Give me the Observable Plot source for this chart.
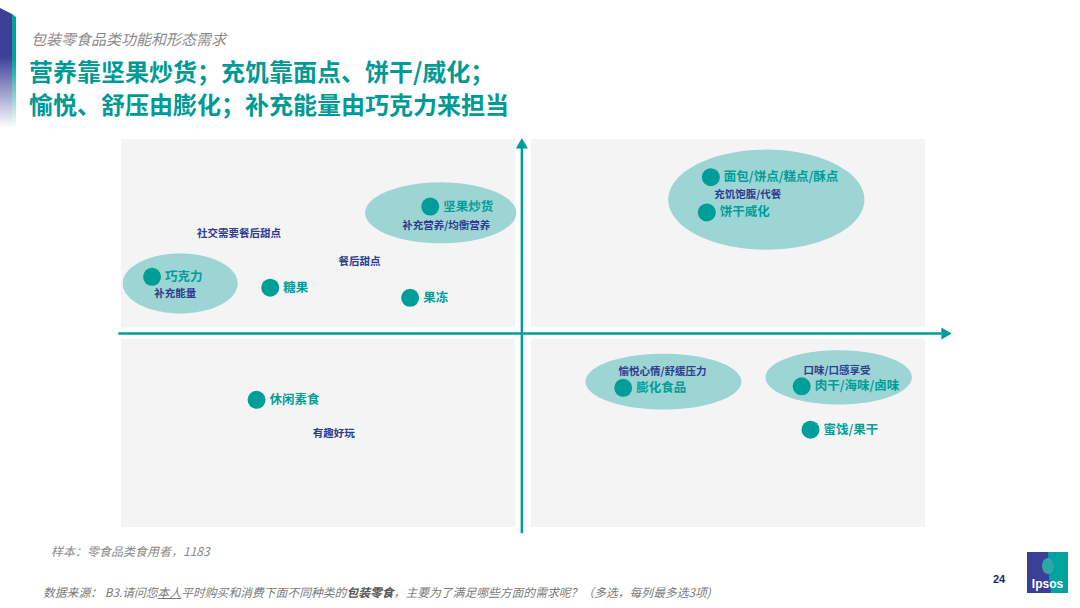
<!DOCTYPE html>
<html><head><meta charset="utf-8">
<script src="https://cdn.jsdelivr.net/npm/d3@7"></script>
<script src="https://cdn.jsdelivr.net/npm/@observablehq/plot@0.6"></script>
<style>
body{margin:0;background:#fff;}
#page{position:relative;width:1080px;height:608px;overflow:hidden;font-family:"Noto Sans CJK SC","Noto Sans",sans-serif;background:#fff;}
#chart{position:absolute;left:0;top:0;}
.abs{position:absolute;white-space:nowrap;}
#kicker{left:31px;top:29px;font-size:15px;font-style:italic;color:#8a8a8a;line-height:20px;}
#title{left:29px;top:54px;font-size:24px;font-weight:700;color:#009a96;line-height:33px;}
#sample{left:51px;top:543px;font-size:12px;font-style:italic;color:#8a8a8a;line-height:16px;}
#source{left:43px;top:584px;font-size:11.8px;font-style:italic;color:#7a7a7a;line-height:16px;}
#source u{text-decoration:underline;}
#source b{font-weight:700;color:#555;}
#pagenum{left:993px;top:571px;font-size:11px;font-weight:700;color:#1c2a6b;line-height:16px;font-family:"Liberation Sans",sans-serif;}
</style>
</head>
<body>
<div id="page">
  <svg class="abs" style="left:0;top:0" width="20" height="130">
    <defs>
      <linearGradient id="fadeB" x1="0" y1="0" x2="0" y2="1">
        <stop offset="0" stop-color="#3a3f98" stop-opacity="1"/>
        <stop offset="0.4" stop-color="#3a3f98" stop-opacity="1"/>
        <stop offset="1" stop-color="#3a3f98" stop-opacity="0"/>
      </linearGradient>
      <linearGradient id="fadeT" x1="0" y1="0" x2="0" y2="1">
        <stop offset="0" stop-color="#00a09b" stop-opacity="1"/>
        <stop offset="0.4" stop-color="#00a09b" stop-opacity="1"/>
        <stop offset="1" stop-color="#00a09b" stop-opacity="0"/>
      </linearGradient>
    </defs>
    <polygon points="0,8 12,14 12,128 0,128" fill="url(#fadeB)"/>
    <polygon points="12,14 16,17 16,128 12,128" fill="url(#fadeT)"/>
  </svg>
  <div id="kicker" class="abs">包装零食品类功能和形态需求</div>
  <div id="title" class="abs">营养靠坚果炒货；充饥靠面点、饼干/威化；<br>愉悦、舒压由膨化；补充能量由巧克力来担当</div>
  <div id="chart"></div>
  <div id="sample" class="abs">样本：零食品类食用者，1183</div>
  <div id="source" class="abs">数据来源： B3.请问您<u>本人</u>平时购买和消费下面不同种类的<b>包装零食</b>，主要为了满足哪些方面的需求呢？（多选，每列最多选3项)</div>
  <div id="pagenum" class="abs">24</div>
  <svg class="abs" style="left:1027px;top:552px" width="41" height="41">
    <rect x="0" y="0" width="41" height="41" fill="#3b3f98"/>
    <path d="M21,0 L41,0 L41,41 L24,41 L22,26 Z" fill="#00a39e"/>
    <ellipse cx="21" cy="14" rx="6" ry="8" fill="#2aa8a8"/>
    <text x="20.5" y="36" text-anchor="middle" font-family="Liberation Sans, sans-serif" font-weight="700" font-size="12" fill="#fff">Ipsos</text>
  </svg>
</div>
<script>
// Product categories (teal dots) — position on function map
const products = ["巧克力","糖果","果冻","坚果炒货","面包/饼点/糕点/酥点","饼干威化","膨化食品","肉干/海味/卤味","蜜饯/果干","休闲素食"];
const productX = [-4.62,-3.15,-1.41,-1.16,2.33,2.28,1.24,3.46,3.57,-3.32];
const productY = [1.46,1.18,0.92,3.27,4.03,3.12,-1.40,-1.36,-2.48,-1.71];

// Needs (dark blue labels)
const needs = ["补充能量","社交需要餐后甜点","餐后甜点","补充营养/均衡营养","充饥饱腹/代餐","愉悦心情/舒缓压力","口味/口感享受","有趣好玩"];
const needX = [-4.33,-3.54,-2.04,-0.96,2.79,1.73,3.90,-2.36];
const needY = [1.03,2.58,1.86,2.78,3.58,-0.97,-0.95,-2.59];

// Highlighted clusters (ellipses)
const clusters = ["巧克力","坚果炒货","面包饼干","膨化食品","肉干海味"];
const clusterX = [-4.27,-1.03,3.02,1.74,3.92];
const clusterY = [1.29,3.11,3.45,-1.24,-1.13];
const clusterRX = [0.715,0.94,1.22,0.97,0.91];
const clusterRY = [0.773,0.786,1.29,0.72,0.70];

// Quadrants
const quadrants = ["左上","右上","左下","右下"];
const quadX1 = [-5,0.1,-5,0.1];
const quadX2 = [-0.1,5,-0.1,5];
const quadY1 = [0.15,0.15,-5,-5];
const quadY2 = [5,5,-0.15,-0.15];

const TEAL = "#009e99";
const BLUE = "#2f3c8f";

const ellipsePts = [];
clusters.forEach((c, i) => {
  for (let k = 0; k <= 96; k++) {
    const a = 2 * Math.PI * k / 96;
    ellipsePts.push({c, x: clusterX[i] + clusterRX[i] * Math.cos(a), y: clusterY[i] + clusterRY[i] * Math.sin(a)});
  }
});

const axes = [
  {x1: -5.04, y1: 0, x2: 5.2, y2: 0},
  {x1: -0.02, y1: -5.15, x2: -0.02, y2: 4.8}
];
const heads = [
  {x: 5.24, y: 0, rot: 90},
  {x: -0.02, y: 4.86, rot: 0}
];

const chart = Plot.plot({
  width: 1080,
  height: 608,
  margin: 0,
  x: {domain: [-5, 5], range: [121, 925], axis: null},
  y: {domain: [-5, 5], range: [527, 139], axis: null},
  style: {background: "transparent", fontFamily: "'Noto Sans CJK SC', sans-serif"},
  marks: [
    Plot.rect(quadrants, {x1: quadX1, x2: quadX2, y1: quadY1, y2: quadY2, fill: "#f4f4f4"}),
    Plot.line(ellipsePts, {x: "x", y: "y", z: "c", curve: "linear-closed", fill: "#9cd5d4", stroke: "none"}),
    Plot.link(axes, {x1: "x1", y1: "y1", x2: "x2", y2: "y2", stroke: TEAL, strokeWidth: 2.5}),
    Plot.dot(heads, {x: "x", y: "y", rotate: "rot", symbol: "triangle", r: 4.5, fill: TEAL, stroke: "none"}),
    Plot.dot(products, {x: productX, y: productY, r: 9, fill: TEAL, stroke: "none"}),
    Plot.text(products, {x: productX, y: productY, text: d => d, dx: 13, textAnchor: "start", fontSize: 12.5, fontWeight: 700, fill: TEAL}),
    Plot.text(needs, {x: needX, y: needY, text: d => d, textAnchor: "middle", fontSize: 10.5, fontWeight: 700, fill: BLUE})
  ]
});
document.getElementById("chart").appendChild(chart);
</script>
</body></html>
